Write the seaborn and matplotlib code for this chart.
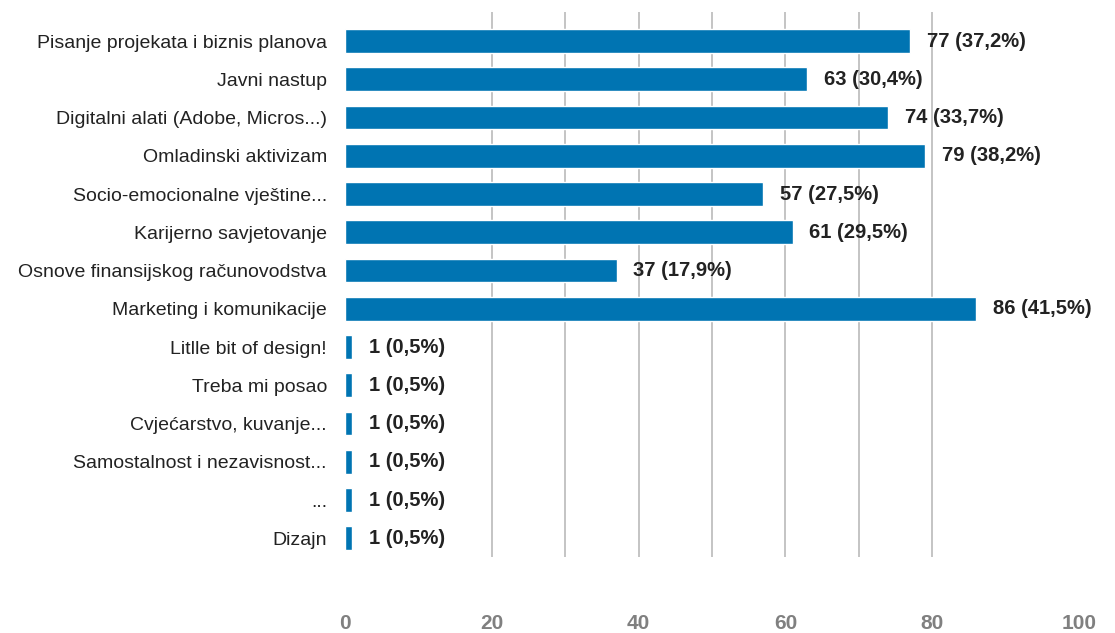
import matplotlib
matplotlib.use("Agg")
import matplotlib.pyplot as plt
import seaborn as sns
import pandas as pd
import numpy as np

categories = [
    "Pisanje projekata i biznis planova",
    "Javni nastup",
    "Digitalni alati (Adobe, Micros...)",
    "Omladinski aktivizam",
    "Socio-emocionalne vještine...",
    "Karijerno savjetovanje",
    "Osnove finansijskog računovodstva",
    "Marketing i komunikacije",
    "Litlle bit of design!",
    "Treba mi posao",
    "Cvjećarstvo, kuvanje...",
    "Samostalnost i nezavisnost...",
    "...",
    "Dizajn",
]
counts = [77, 63, 74, 79, 57, 61, 37, 86, 1, 1, 1, 1, 1, 1]
percents = ["37,2", "30,4", "33,7", "38,2", "27,5", "29,5", "17,9", "41,5",
            "0,5", "0,5", "0,5", "0,5", "0,5", "0,5"]
xticks = [0, 20, 40, 60, 80, 100]
grid_positions = [20, 30, 40, 50, 60, 70, 80]

df = pd.DataFrame({"cat": categories, "n": counts})

sns.set_style("white")
plt.rcParams["font.family"] = ["Liberation Sans", "DejaVu Sans"]

fig = plt.figure(figsize=(11.15, 6.33), dpi=100)
ax = fig.add_axes([345 / 1115, 1 - 557 / 633, (1079 - 345) / 1115, (557 - 12) / 633])

sns.barplot(data=df, x="n", y="cat", orient="h", color="#0074b2", saturation=1,
            width=0.62, ax=ax, zorder=3)

ax.set_xlim(0, 100)
ax.set_ylim(13.49, -0.76)
ax.xaxis.remove_overlapping_locs = False
ax.set_xticks(grid_positions, minor=True)
ax.set_xticks(xticks)
ax.set_xticklabels([str(t) for t in xticks], fontsize=15, fontweight="bold", color="#808080")
ax.tick_params(axis="x", which="both", length=0, pad=41)
ax.tick_params(axis="y", length=0, pad=13, labelsize=14, labelcolor="#222222")
ax.grid(axis="x", which="minor", color="#c4c4c4", linewidth=1.4, zorder=0)
ax.grid(axis="x", which="major", visible=False)
ax.set_axisbelow(True)
for s in ["top", "right", "bottom", "left"]:
    ax.spines[s].set_visible(False)
ax.set_xlabel("")
ax.set_ylabel("")

for i, (n, p) in enumerate(zip(counts, percents)):
    ax.annotate(f"{n} ({p}%)", xy=(n, i), xytext=(12, 0), textcoords="offset points",
                va="center", ha="left", fontsize=14.5, fontweight="bold", color="#222222",
                zorder=5)

fig.savefig("out.png", dpi=100)
